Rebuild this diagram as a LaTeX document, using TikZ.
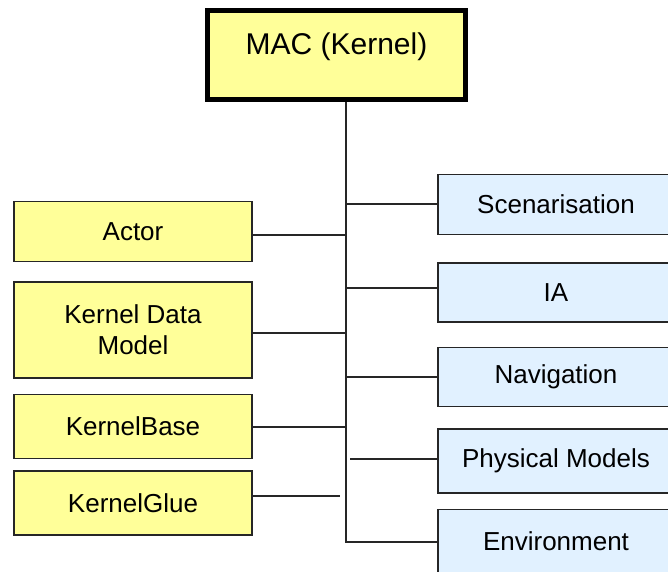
\documentclass[tikz,border=0pt]{standalone}
\usepackage{fontspec}
\setmainfont{Liberation Sans}
\usetikzlibrary{positioning}
\definecolor{kernelyellow}{HTML}{FFFF99}
\definecolor{moduleblue}{HTML}{E1F1FF}

\begin{document}
\begin{tikzpicture}[
x=1pt,y=-1pt,
box/.style={draw=black!85,line width=1.5pt,inner sep=0pt,align=center,font=\fontsize{26}{31}\selectfont},
kbox/.style={box,fill=kernelyellow,minimum width=238pt},
mbox/.style={box,fill=moduleblue,minimum width=236pt},
link/.style={draw=black!85,line width=1.7pt}]
\useasboundingbox (0,0) rectangle (668,571);
\clip (0,0) rectangle (668,571);
% kernel
\node[draw,line width=5pt,fill=kernelyellow,minimum width=258pt,inner sep=0pt,text height=43.5pt,text depth=45.5pt,font=\fontsize{30}{36}\selectfont] (mac) at (336.5,55) {MAC (Kernel)};
% kernel parts (left)
\node[kbox,minimum height=60pt] (actor) at (133,231.5) {Actor};
\node[kbox,minimum height=96pt,below=19pt of actor] (kdm) {Kernel Data\\Model};
\node[kbox,minimum height=64pt,below=15pt of kdm] (kbase) {KernelBase};
\node[kbox,minimum height=64pt,below=11pt of kbase] (kglue) {KernelGlue};
% modules (right)
\node[mbox,minimum height=60pt] (scen) at (556,204.5) {Scenarisation};
\node[mbox,minimum height=59pt,below=27pt of scen] (ia) {IA};
\node[mbox,minimum height=59pt,below=24pt of ia] (nav) {Navigation};
\node[mbox,minimum height=64pt,below=21pt of nav] (phys) {Physical Models};
\node[mbox,minimum height=64pt,below=15pt of phys] (env) {Environment};
% bus
\coordinate (bus) at (346,542);
\draw[link] (mac.south -| bus) -- (bus) -- (bus -| env.west);
\draw[link] ([yshift=-3.5pt]actor.east) -- ([yshift=-3.5pt]actor.east -| bus);
\draw[link] ([yshift=-3pt]kdm.east) -- ([yshift=-3pt]kdm.east -| bus);
\draw[link] ([yshift=-0.5pt]kbase.east) -- ([yshift=-0.5pt]kbase.east -| bus);
\draw[link] ([yshift=7pt]kglue.east) -- ([yshift=7pt,xshift=-6pt]kglue.east -| bus);
\draw[link] ([yshift=0.5pt]scen.west) -- ([yshift=0.5pt]scen.west -| bus);
\draw[link] ([yshift=4.5pt]ia.west) -- ([yshift=4.5pt]ia.west -| bus);
\draw[link] (nav.west) -- (nav.west -| bus);
\draw[link] ([xshift=4pt,yshift=2pt]phys.west -| bus) -- ([yshift=2pt]phys.west);
\end{tikzpicture}
\end{document}
